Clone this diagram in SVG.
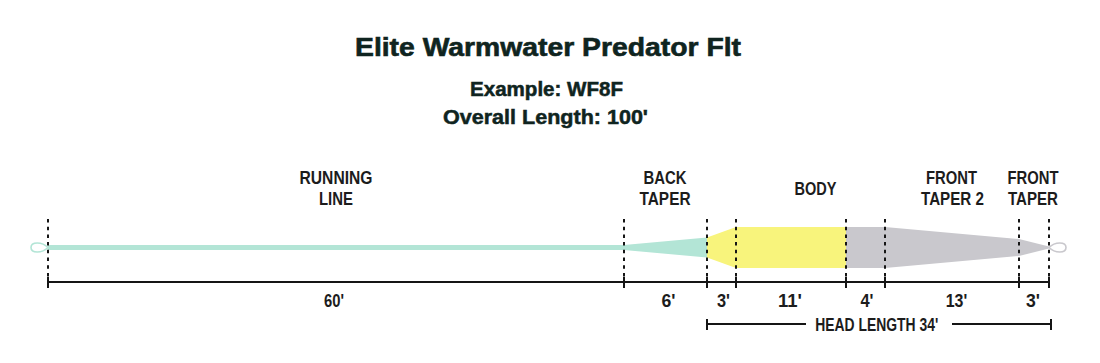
<svg xmlns="http://www.w3.org/2000/svg" width="1100" height="363" viewBox="0 0 1100 363">
<style>
text{font-family:"Liberation Sans",Arial,sans-serif;font-weight:bold;fill:#1c1c1c;text-anchor:middle}
.title{font-size:25.5px;fill:#0f2420;stroke:#0f2420;stroke-width:0.6}
.sub{font-size:20px;fill:#0f2420;stroke:#0f2420;stroke-width:0.5}
.lbl{font-size:17.5px}
.dim{font-size:18px}
.dash{stroke:#151515;stroke-width:2;stroke-dasharray:3.5 4.2;fill:none}
.axis{stroke:#151515;stroke-width:2;fill:none}
</style>
<rect width="1100" height="363" fill="#ffffff"/>
<g id="titles">
<text class="title" x="548" y="56" textLength="386" lengthAdjust="spacingAndGlyphs">Elite Warmwater Predator Flt</text>
<text class="sub" x="546.5" y="96" textLength="153" lengthAdjust="spacingAndGlyphs">Example: WF8F</text>
<text class="sub" x="545.5" y="124" textLength="205" lengthAdjust="spacingAndGlyphs">Overall Length: 100'</text>
</g>
<g id="line-shape">
<path d="M48,245 L624,245 L707,237.5 L707,257.5 L624,250 L48,250 Z" fill="#b3e5d6"/>
<path d="M707,237.5 L736,227 L846,227 L846,268 L736,268 L707,257.5 Z" fill="#f8f47c"/>
<path d="M846,227 L885,227 L1019,239 L1049,246.5 L1049,248.5 L1019,256 L885,268 L846,268 Z" fill="#c9c8cd"/>
<path d="M48,247.5 C42,241.5 31,241.5 31,247.5 C31,253.5 42,253.5 48,247.5 Z" fill="#ffffff" stroke="#b3e5d6" stroke-width="1.6"/>
<path d="M1049,247.5 C1055,241.5 1066,241.5 1066,247.5 C1066,253.5 1055,253.5 1049,247.5 Z" fill="#ffffff" stroke="#c9c8cd" stroke-width="1.6"/>
</g>
<g id="connectors">
<line class="dash" x1="48" y1="219" x2="48" y2="280"/>
<line class="dash" x1="624" y1="219" x2="624" y2="280"/>
<line class="dash" x1="707" y1="219" x2="707" y2="280"/>
<line class="dash" x1="736" y1="219" x2="736" y2="280"/>
<line class="dash" x1="846" y1="219" x2="846" y2="280"/>
<line class="dash" x1="885" y1="219" x2="885" y2="280"/>
<line class="dash" x1="1019" y1="219" x2="1019" y2="280"/>
<line class="dash" x1="1049" y1="219" x2="1049" y2="280"/>
<line class="axis" x1="48" y1="282" x2="1049" y2="282"/>
<path class="axis" d="M48,277V288M624,277V288M707,277V288M736,277V288M846,277V288M885,277V288M1019,277V288M1049,277V288"/>
<path class="axis" d="M707,324H806M952,324H1051M707,319V330M1051,319V330"/>
</g>
<g id="label-running-line">
<text class="lbl" x="336" y="184" textLength="73" lengthAdjust="spacingAndGlyphs">RUNNING</text>
<text class="lbl" x="336" y="205" textLength="34" lengthAdjust="spacingAndGlyphs">LINE</text>
</g>
<g id="label-back-taper">
<text class="lbl" x="665" y="184" textLength="43" lengthAdjust="spacingAndGlyphs">BACK</text>
<text class="lbl" x="665" y="205" textLength="51" lengthAdjust="spacingAndGlyphs">TAPER</text>
</g>
<g id="label-body">
<text class="lbl" x="815.5" y="195" textLength="42" lengthAdjust="spacingAndGlyphs">BODY</text>
</g>
<g id="label-front-taper-2">
<text class="lbl" x="951.5" y="184" textLength="51" lengthAdjust="spacingAndGlyphs">FRONT</text>
<text class="lbl" x="952.5" y="205" textLength="63" lengthAdjust="spacingAndGlyphs">TAPER 2</text>
</g>
<g id="label-front-taper">
<text class="lbl" x="1033" y="184" textLength="51" lengthAdjust="spacingAndGlyphs">FRONT</text>
<text class="lbl" x="1033" y="205" textLength="50" lengthAdjust="spacingAndGlyphs">TAPER</text>
</g>
<g id="dimensions">
<text class="dim" x="334" y="307" textLength="20" lengthAdjust="spacingAndGlyphs">60'</text>
<text class="dim" x="668.5" y="307" textLength="14" lengthAdjust="spacingAndGlyphs">6'</text>
<text class="dim" x="723.5" y="307" textLength="13" lengthAdjust="spacingAndGlyphs">3'</text>
<text class="dim" x="790" y="307" textLength="24" lengthAdjust="spacingAndGlyphs">11'</text>
<text class="dim" x="867" y="307" textLength="13" lengthAdjust="spacingAndGlyphs">4'</text>
<text class="dim" x="956.5" y="307" textLength="21.5" lengthAdjust="spacingAndGlyphs">13'</text>
<text class="dim" x="1033" y="307" textLength="14" lengthAdjust="spacingAndGlyphs">3'</text>
</g>
<g id="head-length">
<text class="dim" x="876.7" y="331" style="font-size:18.5px" textLength="123" lengthAdjust="spacingAndGlyphs">HEAD LENGTH 34'</text>
</g>
</svg>
